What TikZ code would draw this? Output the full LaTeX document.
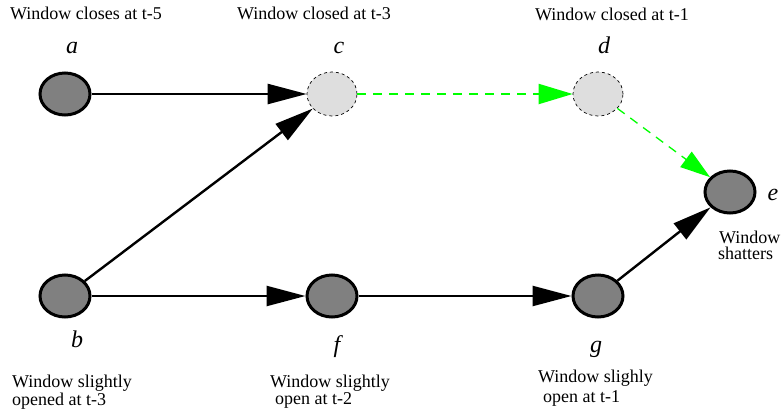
\documentclass[tikz,border=0pt]{standalone}
\usepackage{fontspec}
\setmainfont{Liberation Serif}
\usetikzlibrary{arrows.meta,shapes.geometric}
\definecolor{darkfill}{HTML}{808080}
\definecolor{lightfill}{HTML}{DEDEDE}
\definecolor{arrowgreen}{HTML}{00FF00}
\begin{document}
\begin{tikzpicture}[x=1pt,y=-1pt,
  solidnode/.style={ellipse,draw=black,line width=3pt,fill=darkfill,minimum width=50pt,minimum height=42pt,inner sep=0pt},
  hiddennode/.style={ellipse,draw=black,dashed,line width=0.7pt,fill=lightfill,minimum width=50pt,minimum height=44pt,inner sep=0pt},
  letter/.style={font=\fontsize{24}{26}\selectfont\itshape,inner sep=0pt,anchor=base},
  caption/.style={font=\fontsize{18}{18}\selectfont,inner sep=0pt,anchor=base west},
  blockcaption/.style={inner sep=0pt,anchor=north west,align=left},
  blackarrow/.style={line width=2.4pt,-{Triangle[length=39pt,width=20pt]}},
  greenarrow/.style={draw=arrowgreen,line width=2pt,dash pattern=on 9pt off 7pt,-{Triangle[length=34pt,width=20pt,fill=arrowgreen]}},
  greenthin/.style={draw=arrowgreen,line width=1.3pt,dash pattern=on 9pt off 7pt,-{Triangle[length=30pt,width=19pt,fill=arrowgreen]}}
]
\useasboundingbox (0,0) rectangle (782,410);
\node[solidnode] (a) at (65,94) {};
\node[hiddennode] (c) at (332,94) {};
\node[hiddennode] (d) at (598,94) {};
\node[solidnode] (e) at (730,192) {};
\node[solidnode] (b) at (65,296) {};
\node[solidnode] (f) at (332,296) {};
\node[solidnode] (g) at (598,296) {};

\node[letter] (la) at (72,53) {a};
\node[letter] (lc) at (339,53) {c};
\node[letter] (ld) at (604,53) {d};
\node[letter] (le) at (773,200) {e};
\node[letter] (lb) at (77,347) {b};
\node[letter] (lf) at (337,352) {f};
\node[letter] (lg) at (596,352) {g};

\node[caption] (ta) at (10,19) {Window closes at t-5};
\node[caption] (tc) at (237,19) {Window closed at t-3};
\node[caption] (td) at (535,20) {Window closed at t-1};
\node[blockcaption,font=\fontsize{18}{13}\selectfont] (tb) at (12,375) {Window slightly\\opened at t-3};
\node[blockcaption,font=\fontsize{18}{13}\selectfont] (tf) at (270,375) {Window slightly\\\hspace*{5pt}open at t-2};
\node[blockcaption,font=\fontsize{18}{20}\selectfont] (tg) at (538,370) {Window slighly\\\hspace*{5pt}open at t-1};
\node[blockcaption,font=\fontsize{18}{16}\selectfont] (te) at (718,231) {\hspace*{1pt}Window\\shatters};

\draw[blackarrow] (a) -- (c);
\draw[blackarrow] (b) -- (c);
\draw[blackarrow] (b) -- (f);
\draw[blackarrow] (f) -- (g);
\draw[blackarrow] (g) -- (e);
\draw[greenarrow] (c) -- (d);
\draw[greenthin] (d) -- (e);
\end{tikzpicture}
\end{document}
